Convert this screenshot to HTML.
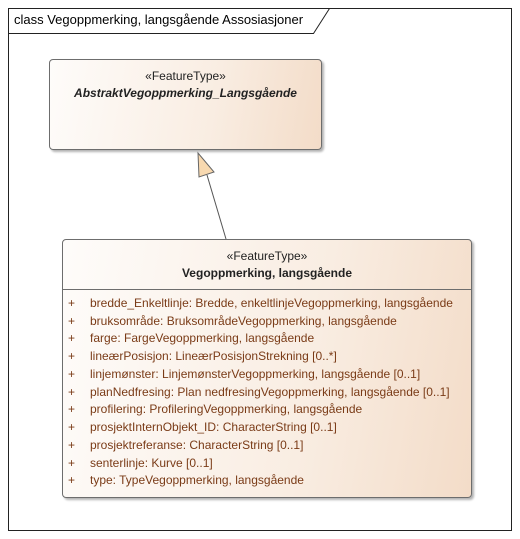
<!DOCTYPE html>
<html><head><meta charset="utf-8"><style>
body{margin:0;width:520px;height:539px;background:#fff;position:relative;overflow:hidden;font-family:"Liberation Sans",sans-serif;}
.box{position:absolute;border:1px solid #6d6d6d;border-radius:4px;background:linear-gradient(100deg,#fefcfa 0%,#f9ede2 60%,#f3dcc8 100%);box-shadow:2px 2px 2px rgba(0,0,0,.3);}
.t{position:absolute;left:0;right:0;text-align:center;font-size:12px;color:#222;}
.a{position:absolute;left:5px;font-size:12px;color:#7a3b17;white-space:nowrap;}
.a span{display:inline-block;width:22px;}
</style></head><body>
<svg width="520" height="539" style="position:absolute;left:0;top:0">
<rect x="8.5" y="8.5" width="503" height="522" fill="none" stroke="#222"/>
<path d="M8.5 33.5 H313.5 L329.5 8.5" fill="none" stroke="#222"/>
</svg>
<div style="position:absolute;left:14px;top:12px;font-size:13px;color:#000">class Vegoppmerking, langsgående Assosiasjoner</div>
<div class="box" style="left:49px;top:59px;width:271px;height:89px">
<div class="t" style="top:9px">«FeatureType»</div>
<div class="t" style="top:26px;font-style:italic;font-weight:bold">AbstraktVegoppmerking_Langsgående</div>
</div>
<div class="box" style="left:62px;top:239px;width:408px;height:257px">
<div class="t" style="top:9px">«FeatureType»</div>
<div class="t" style="top:26px;font-weight:bold">Vegoppmerking, langsgående</div>
<div style="position:absolute;left:0;right:0;top:49px;border-top:1px solid #6d6d6d"></div>
<div class="a" style="top:56px"><span>+</span>bredde_Enkeltlinje: Bredde, enkeltlinjeVegoppmerking, langsgående</div>
<div class="a" style="top:74px"><span>+</span>bruksområde: BruksområdeVegoppmerking, langsgående</div>
<div class="a" style="top:91px"><span>+</span>farge: FargeVegoppmerking, langsgående</div>
<div class="a" style="top:109px"><span>+</span>lineærPosisjon: LineærPosisjonStrekning [0..*]</div>
<div class="a" style="top:127px"><span>+</span>linjemønster: LinjemønsterVegoppmerking, langsgående [0..1]</div>
<div class="a" style="top:145px"><span>+</span>planNedfresing: Plan nedfresingVegoppmerking, langsgående [0..1]</div>
<div class="a" style="top:162px"><span>+</span>profilering: ProfileringVegoppmerking, langsgående</div>
<div class="a" style="top:180px"><span>+</span>prosjektInternObjekt_ID: CharacterString [0..1]</div>
<div class="a" style="top:198px"><span>+</span>prosjektreferanse: CharacterString [0..1]</div>
<div class="a" style="top:216px"><span>+</span>senterlinje: Kurve [0..1]</div>
<div class="a" style="top:233px"><span>+</span>type: TypeVegoppmerking, langsgående</div>
</div>
<svg width="520" height="539" style="position:absolute;left:0;top:0">
<line x1="207" y1="175" x2="226" y2="239" stroke="#555"/>
<polygon points="198,153 214,172 199,177" fill="#f8d9b0" stroke="#666"/>
</svg>
</body></html>
